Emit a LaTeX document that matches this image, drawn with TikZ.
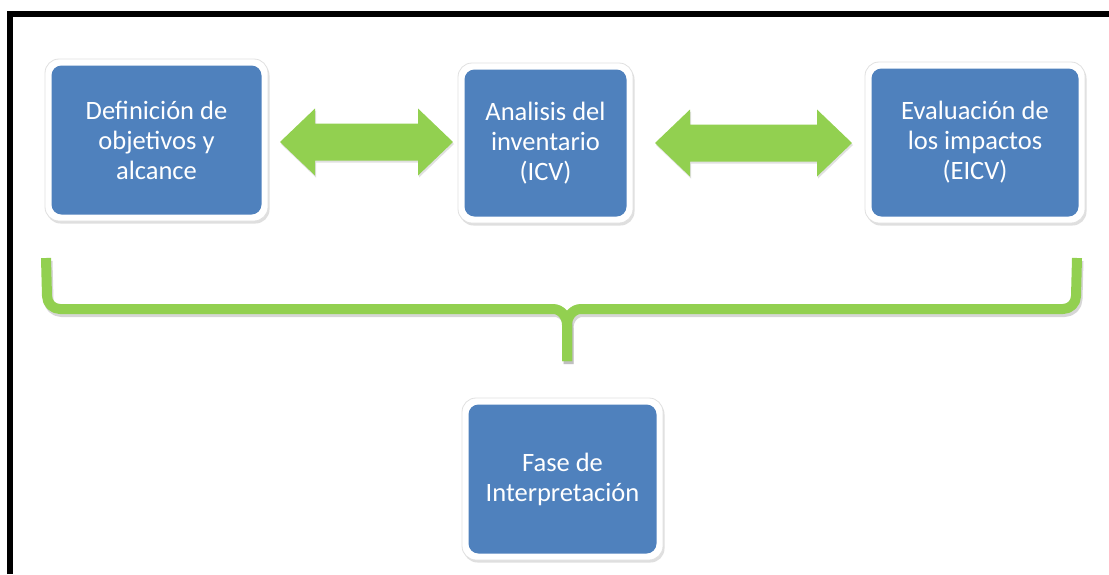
\documentclass[tikz,border=0pt]{standalone}
\usepackage{fontspec}
\setmainfont{Carlito}
\usetikzlibrary{shadows}
\definecolor{boxblue}{HTML}{4F81BD}
\definecolor{lgreen}{HTML}{92D050}
\tikzset{
  stage/.style={fill=white, draw=black!12, line width=0.8pt, rounded corners=14pt,
    text=white, align=center, inner sep=0pt,
    font=\fontsize{26.5}{30}\selectfont,
    drop shadow={opacity=0.25, shadow xshift=1.5pt, shadow yshift=-2.5pt},
    path picture={\fill[boxblue, rounded corners=10pt]
      ([shift={(6.5pt,6.5pt)}]path picture bounding box.south west) rectangle
      ([shift={(-6.5pt,-6.5pt)}]path picture bounding box.north east);}},
  linkarrow/.style={fill=lgreen},
  arrowshadow/.style={fill=black!30, opacity=0.4},
  bracepath/.style={draw=lgreen, line width=10pt, line join=round},
  braceshadow/.style={draw=black!35, opacity=0.45, line width=10pt, line join=round},
  frameline/.style={draw=black, line width=6pt}
}
\newcommand{\dblarrow}[4]{% style, x left tip, x right tip, y centre
  \fill[#1] (#2,#4) -- ++(35,-33.5) -- ++(0,15) -- (#3-35,#4-18.5) -- ++(0,-15)
    -- (#3,#4) -- (#3-35,#4+33.5) -- ++(0,-15) -- (#2+35,#4+18.5) -- ++(0,15) -- cycle;}
\begin{document}
\begin{tikzpicture}[x=1pt,y=-1pt]
\useasboundingbox (0,0) rectangle (1109,574);
\fill[white] (0,0) rectangle (1109,574);
% frame
\draw[frameline] (10,574) -- (10,14) -- (1109,14);
% boxes
\node[stage, minimum width=223pt, minimum height=162pt] (def) at (156.5,140)
  {Definición de\\objetivos y\\alcance};
\node[stage, minimum width=175pt, minimum height=160pt] (inv) at (545.5,143)
  {Analisis del\\inventario\\(ICV)};
\node[stage, minimum width=220pt, minimum height=161pt] (eva) at (975,142.5)
  {Evaluación de\\los impactos\\(EICV)};
\node[stage, minimum width=201pt, minimum height=162pt] (fase) at (562.5,479)
  {Fase de\\Interpretación};
% double arrows
\begin{scope}[transform canvas={shift={(1pt,-2pt)}}]
\dblarrow{arrowshadow}{280}{453}{142}
\dblarrow{arrowshadow}{655}{852}{143}
\end{scope}
\dblarrow{linkarrow}{280}{453}{142}
\dblarrow{linkarrow}{655}{852}{143}
% brace
\coordinate (bl) at (46,258);
\coordinate (br) at (1077,258);
\coordinate (bm) at (567,361);
\coordinate (bc) at (567,325);
\begin{scope}[transform canvas={shift={(1.5pt,-3pt)}}]
\draw[braceshadow] (bl) -- (47,296) to[out=-90,in=180] (60,309) -- (553,309) to[out=0,in=90] (bc) -- (bm);
\draw[braceshadow] (br) -- (1076,296) to[out=-90,in=0] (1063,309) -- (581,309) to[out=180,in=90] (bc) -- (bm);
\end{scope}
\draw[bracepath] (bl) -- (47,296) to[out=-90,in=180] (60,309) -- (553,309) to[out=0,in=90] (bc) -- (bm);
\draw[bracepath] (br) -- (1076,296) to[out=-90,in=0] (1063,309) -- (581,309) to[out=180,in=90] (bc) -- (bm);
\end{tikzpicture}
\end{document}
